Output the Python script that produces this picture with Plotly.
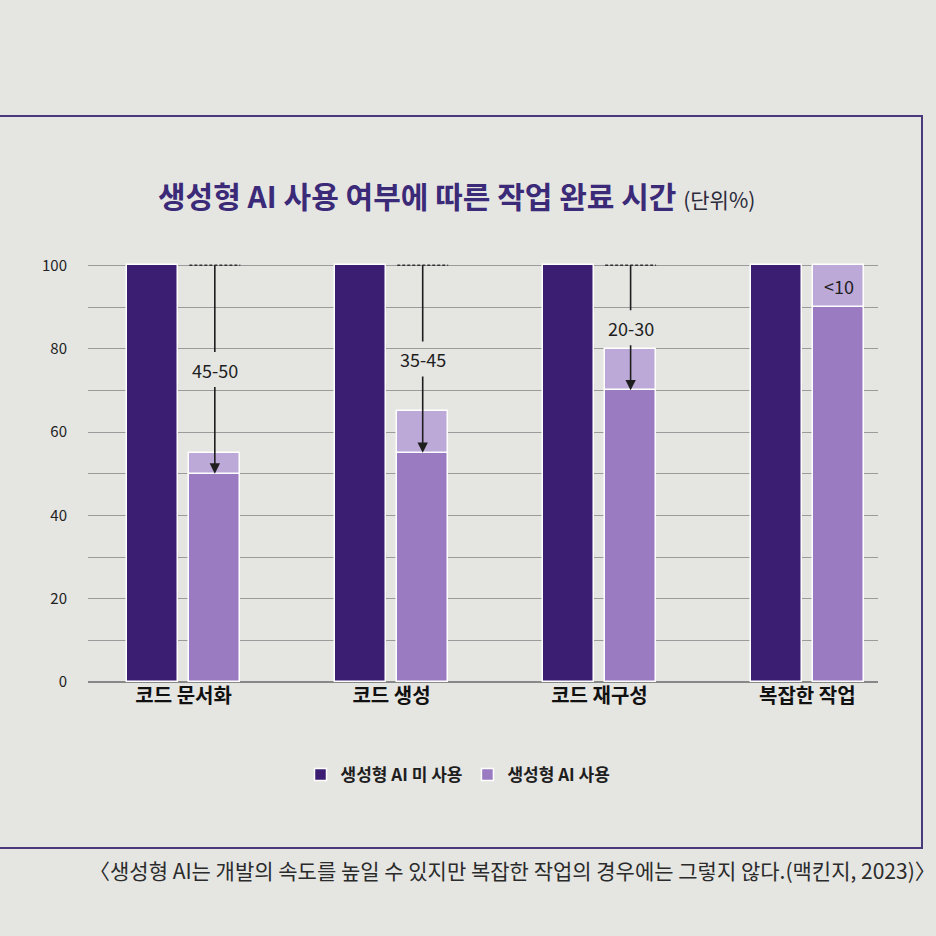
import plotly.graph_objects as go

categories = ["코드 문서화", "코드 생성", "코드 재구성", "복잡한 작업"]
no_ai = [100, 100, 100, 100]
with_ai_low = [50, 55, 70, 90]
with_ai_high = [55, 65, 80, 100]
reduction_labels = ["45-50", "35-45", "20-30", "<10"]
y_tick_vals = [0, 20, 40, 60, 80, 100]

DARK = "#3b1e72"
MID = "#9a7bc1"
LIGHT = "#bda9d8"
BG = "#e5e5e2"
FONT = "Noto Sans CJK KR"

n = len(categories)
xs = list(range(n))
off = 0.15
bw = 0.245

fig = go.Figure()
fig.add_trace(go.Bar(
    x=[i - off for i in xs], y=no_ai, width=bw, name="<b>생성형 AI 미 사용</b>",
    marker=dict(color=DARK, line=dict(color="white", width=1.5)),
))
fig.add_trace(go.Bar(
    x=[i + off for i in xs], y=with_ai_low, width=bw, name="<b>생성형 AI 사용</b>",
    marker=dict(color=MID, line=dict(color="white", width=1.5)),
))
fig.add_trace(go.Bar(
    x=[i + off for i in xs], y=[h - l for h, l in zip(with_ai_high, with_ai_low)],
    base=with_ai_low, width=bw, name="범위", showlegend=False,
    marker=dict(color=LIGHT, line=dict(color="white", width=1.5)),
))

annotations = []
shapes = []
for i in xs:
    xc = i + off
    if with_ai_high[i] < no_ai[i]:
        ly = (no_ai[i] + with_ai_low[i]) / 2
        shapes.append(dict(type="line", xref="x", yref="y",
                           x0=xc - bw / 2, x1=xc + bw / 2, y0=no_ai[i], y1=no_ai[i],
                           line=dict(color="#333", width=1.5, dash="3px,2px")))
        annotations.append(dict(x=xc, y=with_ai_low[i], ax=xc, ay=ly,
                                xref="x", yref="y", axref="x", ayref="y",
                                text=reduction_labels[i], showarrow=True,
                                arrowhead=2, arrowsize=1.3, arrowwidth=1.6,
                                arrowcolor="#1e1e1e", standoff=0,
                                font=dict(family=FONT, size=18, color="#1e1e1e"),
                                borderpad=4))
        annotations.append(dict(x=xc, y=no_ai[i], ax=xc, ay=ly,
                                xref="x", yref="y", axref="x", ayref="y",
                                text=reduction_labels[i], showarrow=True,
                                arrowhead=0, arrowwidth=1.6, arrowcolor="#1e1e1e",
                                font=dict(family=FONT, size=18, color="rgba(0,0,0,0)"),
                                borderpad=4))
    else:
        annotations.append(dict(x=xc, y=(with_ai_low[i] + with_ai_high[i]) / 2,
                                xref="x", yref="y", text=reduction_labels[i],
                                showarrow=False,
                                font=dict(family=FONT, size=18, color="#1e1e1e")))

annotations.append(dict(
    xref="paper", yref="paper", x=(456 - 88) / 790, y=(682 - 195) / 425,
    xanchor="center", yanchor="middle",
    text="<b>생성형 AI 사용 여부에 따른 작업 완료 시간</b> <span style='font-size:21px;color:#2a2a3a'>(단위%)</span>",
    showarrow=False, font=dict(family=FONT, size=30, color="#3b2a78")))
annotations.append(dict(
    xref="paper", yref="paper", x=(938 - 88) / 790, y=(682 - 870) / 425,
    xanchor="right", yanchor="middle",
    text="〈생성형 AI는 개발의 속도를 높일 수 있지만 복잡한 작업의 경우에는 그렇지 않다.(맥킨지, 2023)〉",
    showarrow=False, font=dict(family=FONT, size=21, color="#2b2b2b")))

shapes.append(dict(type="rect", xref="paper", yref="paper",
                   x0=(-6 - 88) / 790, x1=(922 - 88) / 790,
                   y0=(682 - 848) / 425, y1=(682 - 116) / 425,
                   line=dict(color="#4a3a7c", width=2), fillcolor="rgba(0,0,0,0)",
                   layer="below"))

fig.update_layout(
    width=936, height=936,
    margin=dict(l=88, r=58, t=257, b=254),
    paper_bgcolor=BG, plot_bgcolor=BG,
    barmode="overlay", bargap=0,
    showlegend=True,
    legend=dict(orientation="h", x=(458 - 88) / 790, xanchor="center",
                y=(682 - 775) / 425, yanchor="middle",
                font=dict(family=FONT, size=17, color="#1e1e1e"),
                bgcolor="rgba(0,0,0,0)", traceorder="normal"),
    annotations=annotations, shapes=shapes,
    font=dict(family=FONT),
)
fig.update_xaxes(range=[-0.46, 3.34], tickvals=xs,
                 ticktext=[f"<b>{c}</b>" for c in categories],
                 tickfont=dict(family=FONT, size=20, color="#111"),
                 showgrid=False, zeroline=False, showline=False, ticks="", ticklen=0)
fig.update_yaxes(range=[0, 102], tickvals=y_tick_vals,
                 tickfont=dict(family=FONT, size=15, color="#222"),
                 showgrid=True, gridcolor="#9b9b9b", gridwidth=1,
                 minor=dict(dtick=10, showgrid=True, gridcolor="#9b9b9b", gridwidth=1),
                 zeroline=True, zerolinecolor="#888", zerolinewidth=1.5,
                 ticks="", ticklabelstandoff=20)

fig.write_html("out.html", config={"displayModeBar": False},
               post_script="document.body.style.margin='0';document.body.style.background='#e5e5e2';")
